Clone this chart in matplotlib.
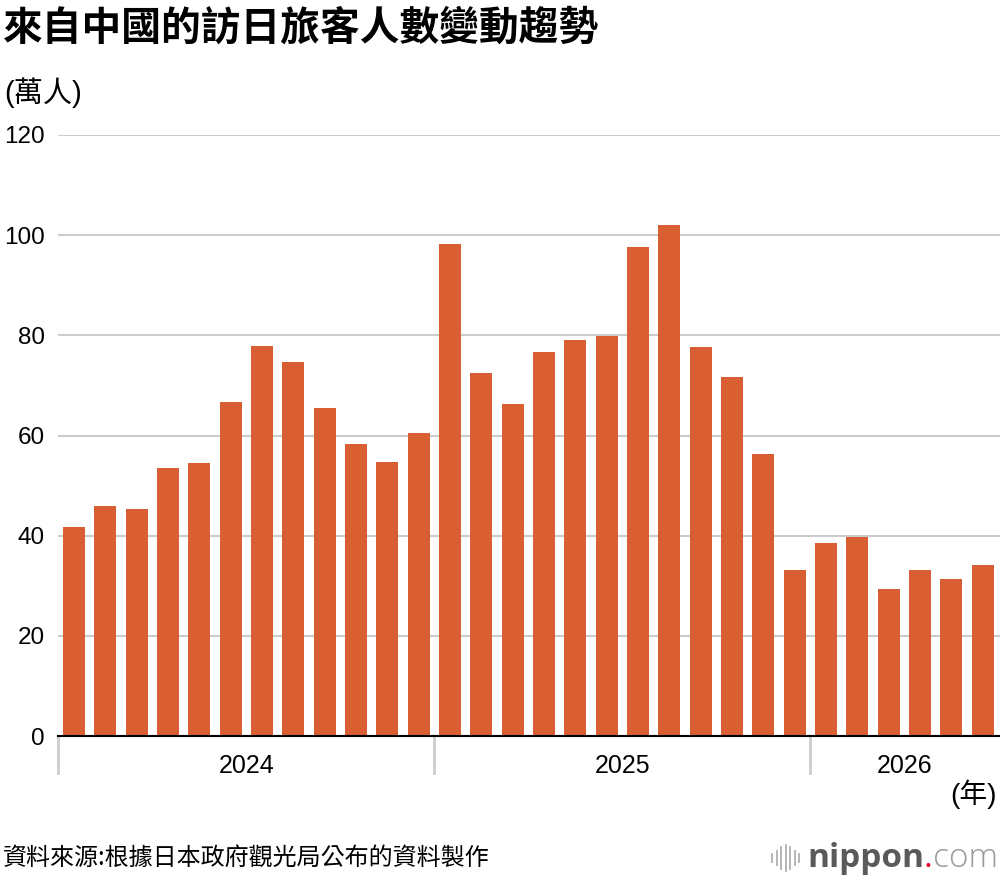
import matplotlib
matplotlib.use("Agg")
import matplotlib.pyplot as plt
import matplotlib.transforms as mtransforms
from matplotlib.lines import Line2D

plt.rcParams['font.family'] = ['Liberation Sans', 'Noto Sans CJK TC', 'DejaVu Sans']

# data (萬人)
years = ["2024", "2025", "2026"]
v2024 = [41.7, 46.0, 45.3, 53.5, 54.6, 66.7, 77.8, 74.7, 65.4, 58.4, 54.7, 60.5]
v2025 = [98.2, 72.4, 66.3, 76.6, 79.1, 79.9, 97.6, 102.0, 77.7, 71.7, 56.4, 33.2]
v2026 = [38.6, 39.7, 29.3, 33.2, 31.4, 34.1]
yticks = [0, 20, 40, 60, 80, 100, 120]

title = "來自中國的訪日旅客人數變動趨勢"
unit = "(萬人)"
xunit = "(年)"
source = "資料來源:根據日本政府觀光局公布的資料製作"

bar_color = "#d95f33"
grid_color = "#cccccc"

values = v2024 + v2025 + v2026
counts = [len(v2024), len(v2025), len(v2026)]
x = list(range(len(values)))

fig = plt.figure(figsize=(10, 8.8), dpi=100)
ax = fig.add_axes([0.0583, 0.1636, 0.9417, 0.683])

ax.bar(x, values, width=0.70, color=bar_color, zorder=2)
ax.set_xlim(-0.5, len(values) - 0.45)
ax.set_ylim(0, 120)

ax.set_yticks(yticks)
ax.set_yticklabels([str(t) for t in yticks], fontsize=17.5)
ax.tick_params(axis='y', length=0, pad=9.5)
ax.set_xticks([])
ax.yaxis.grid(True, color=grid_color, linewidth=1.5, zorder=0)
ax.set_axisbelow(True)
for s in ["top", "right", "left"]:
    ax.spines[s].set_visible(False)
ax.spines["bottom"].set_linewidth(1.5)
ax.spines["bottom"].set_color("black")
ax.spines["bottom"].set_zorder(3)

# year separators and labels
trans = mtransforms.blended_transform_factory(ax.transData, ax.transAxes)
start = -0.5
xmax = ax.get_xlim()[1]
for yr, n in zip(years, counts):
    ax.plot([start, start], [0, -0.062], transform=trans, color=grid_color,
            linewidth=2, clip_on=False)
    end = min(start + n, xmax)
    ax.text((start + end) / 2, -0.05, yr, transform=trans, ha='center',
            va='center', fontsize=18)
    start += n

fig.text(0.003, 0.968, title, fontsize=28.6, fontweight='bold',
         family=['Noto Sans CJK TC'], ha='left', va='center')
fig.text(0.004, 0.895, unit, fontsize=21, ha='left', va='center')
fig.text(0.997, 0.097, xunit, fontsize=20, ha='right', va='center')
fig.text(0.003, 0.025, source, fontsize=17.3, family=['Noto Sans CJK TC'],
         ha='left', va='center')

# nippon.com logo
logo_bars = [0.3, 0.55, 0.8, 1.0, 0.8, 0.55, 0.3]
for i, h in enumerate(logo_bars):
    lx = 0.772 + i * 0.0045
    fig.add_artist(Line2D([lx, lx], [0.025 - 0.015 * h, 0.025 + 0.015 * h],
                          color="#b0b0b0", linewidth=1.3))
t1 = fig.text(0.807, 0.025, "nippon", fontsize=24, color="#5a5a5a",
              ha='left', va='center', family=['Open Sans'], fontweight='bold')
fig.canvas.draw()
bb = t1.get_window_extent()
t2 = fig.text(bb.x1 / 1000, 0.025, ".", fontsize=24, color="#e8002a",
              ha='left', va='center', family=['Open Sans'])
bb2 = t2.get_window_extent()
fig.text(bb2.x1 / 1000, 0.025, "com", fontsize=24, color="#999999",
         ha='left', va='center', family=['Open Sans'], fontweight='light')

fig.savefig("out.png", dpi=100)
